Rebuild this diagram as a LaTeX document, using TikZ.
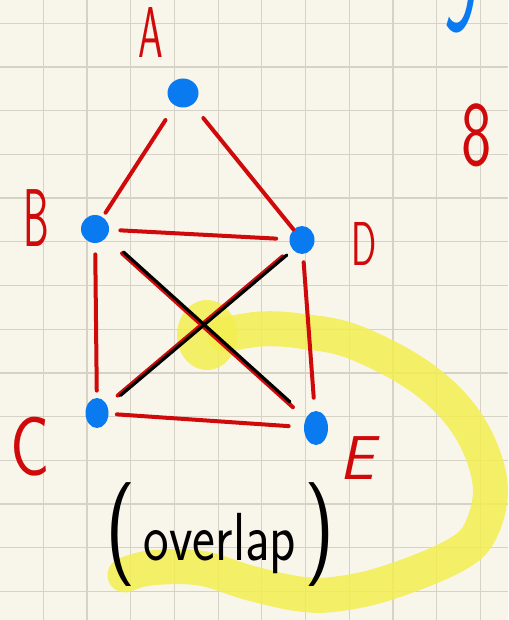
\documentclass[tikz,border=0pt]{standalone}
\usetikzlibrary{shapes.geometric}
\definecolor{paper}{HTML}{F8F6EB}
\definecolor{gridgray}{HTML}{D6D3C6}
\definecolor{inkblue}{HTML}{0A7AF0}
\definecolor{inkred}{HTML}{D00A0A}
\definecolor{hiyellow}{HTML}{F3EE50}
\newcommand{\handtext}[3]{\scalebox{#2}[1]{\fontsize{#1}{#1}\selectfont #3}}
\begin{document}
\begin{tikzpicture}[x=0.5pt,y=-0.5pt,
  dot/.style={ellipse,fill=inkblue,inner sep=0pt},
  edge/.style={draw=inkred,line width=2pt,line cap=round},
  overlapline/.style={draw=black,line width=1.6pt,line cap=round},
  marker/.style={draw=hiyellow,line width=17.5pt,line cap=round,line join=round,opacity=0.85},
  lbl/.style={text=inkred,font=\sffamily,inner sep=0pt}]
\useasboundingbox (0,0) rectangle (508,620);
\fill[paper] (0,0) rectangle (508,620);
\begin{scope}
\clip (0,0) rectangle (508,620);
% grid paper
\foreach \i in {1,...,11} \draw[gridgray,line width=0.6pt] ({-0.4+43.7*\i},0) -- ++(0,620);
\foreach \j in {0,...,13} \draw[gridgray,line width=0.6pt] (0,{23.3+43.7*\j}) -- ++(508,0);
% highlighter
\fill[hiyellow,opacity=0.85] (207,335) ellipse [x radius=30,y radius=35];
\draw[marker] plot[smooth,tension=0.6] coordinates {(225,335) (260,329) (300,331) (354,342) (422,378) (468,425) (490,483) (480,532) (452,557) (387,583) (337,594) (300,594) (250,583) (200,568) (150,568) (125,575)};
% vertices
\node[dot,minimum width=15.5pt,minimum height=14.5pt] (A) at (183,93) {};
\node[dot,minimum width=14pt,minimum height=14pt] (B) at (95,229) {};
\node[dot,minimum width=12.5pt,minimum height=14pt] (D) at (302,240) {};
\node[dot,minimum width=11.5pt,minimum height=15pt] (C) at (97,413) {};
\node[dot,minimum width=12pt,minimum height=17pt] (E) at (316,428) {};
% edges
\draw[edge,shorten <=8.5pt,shorten >=2.5pt] (A) -- (B);
\draw[edge,shorten <=8.5pt] (A) -- (D);
\draw[edge,shorten <=5.5pt,shorten >=6.5pt] (B) -- (D);
\draw[edge,shorten <=5.5pt,shorten >=3.5pt] (B) -- (C);
\draw[edge,shorten <=4pt,shorten >=6.5pt] (D) -- (E);
\draw[edge,shorten <=4pt,shorten >=7.5pt] (C) -- (E);
% the two crossing edges
\draw[edge,shorten <=11pt,shorten >=8.5pt] (B) -- (E);
\draw[edge,shorten <=6pt,shorten >=7pt] (D) -- (C);
\draw[overlapline,shorten <=11pt,shorten >=11.5pt,transform canvas={xshift=0.7pt,yshift=0.7pt}] (B) -- (E);
\draw[overlapline,shorten <=4pt,shorten >=8pt,transform canvas={xshift=0.6pt,yshift=-0.6pt}] (D) -- (C);
% labels
\node[lbl] (lblA) at (151,33) {\handtext{36}{0.55}{A}};
\node[lbl] (lblB) at (36,218) {\handtext{41}{0.5}{B}};
\node[lbl] (lblD) at (364,244) {\handtext{31}{0.6}{D}};
\node[lbl] (lblC) at (30,447) {\handtext{42}{0.78}{C}};
\node[lbl] (lblE) at (357,458) {\handtext{31}{1}{\slshape E}};
\node[lbl] (eight) at (477,135) {\handtext{46}{0.7}{8}};
\node[text=inkblue,font=\sffamily,inner sep=0pt,anchor=base] (nine) at (460,31) {\handtext{80}{0.5}{9}};
\node[anchor=base,inner sep=0pt,font=\sffamily] (ovl) at (220,560) {\scalebox{0.8}[1]{\fontsize{52}{52}\selectfont(\kern5pt\fontsize{34}{34}\selectfont overlap\kern5pt\fontsize{52}{52}\selectfont)}};
\end{scope}
\end{tikzpicture}
\end{document}
